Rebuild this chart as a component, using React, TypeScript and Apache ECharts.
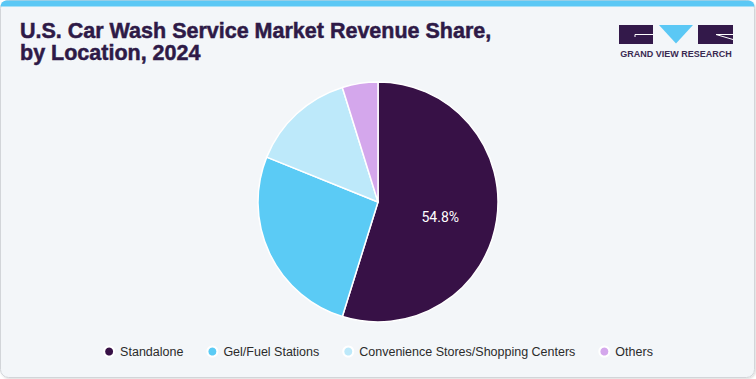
import React, { useEffect, useRef } from "react";
import * as echarts from "echarts";

const categories = ["Standalone", "Gel/Fuel Stations", "Convenience Stores/Shopping Centers", "Others"];
const shares = [54.8, 26.3, 14.1, 4.8];
const colors = ["#371146", "#5BCBF5", "#BDE9FA", "#D4A7EC"];
const titleText = "U.S. Car Wash Service Market Revenue Share,\nby Location, 2024";
const brandText = "GRAND VIEW RESEARCH";

export default function App() {
  const ref = useRef<HTMLDivElement>(null);
  useEffect(() => {
    document.body.style.margin = "0";
    if (!ref.current) return;
    const chart = echarts.init(ref.current, undefined, { renderer: "svg" });
    const dark = "#2E1A47";
    chart.setOption({
      animation: false,
      title: {
        text: titleText,
        left: 20,
        top: 19.5,
        padding: 0,
        textStyle: {
          fontFamily: "Liberation Sans, Arial, sans-serif",
          fontSize: 21.5,
          fontWeight: "bold",
          color: dark,
          lineHeight: 22.5,
          textBorderColor: dark,
          textBorderWidth: 0.5,
        },
      },
      legend: {
        left: "center",
        top: 340,
        icon: "circle",
        itemWidth: 10,
        itemHeight: 10,
        itemGap: 23,
        textStyle: {
          fontFamily: "Liberation Sans, Arial, sans-serif",
          fontSize: 12.5,
          color: "#2b2b2b",
          padding: [0, 0, 0, 1],
        },
        data: categories,
      },
      graphic: [
        {
          type: "rect",
          z: -10,
          shape: { x: 0.5, y: 0.5, width: 754, height: 377, r: 8 },
          style: { fill: "#F3F6F9", stroke: "#D2D5D9", lineWidth: 1, shadowBlur: 2, shadowOffsetX: 1, shadowOffsetY: 1, shadowColor: "rgba(0,0,0,0.15)" },
        },
        {
          type: "rect",
          z: -9,
          shape: { x: 0.5, y: 0.5, width: 754, height: 6, r: [8, 8, 0, 0] },
          style: { fill: "#5BC8F5" },
        },
        {
          type: "group",
          z: 5,
          children: [
            { type: "rect", shape: { x: 619, y: 25, width: 34, height: 19 }, style: { fill: "#33194A" } },
            { type: "line", shape: { x1: 635, y1: 34.5, x2: 653, y2: 34.5 }, style: { stroke: "#ffffff", lineWidth: 1 } },
            { type: "line", shape: { x1: 635, y1: 34.5, x2: 635, y2: 37 }, style: { stroke: "#ffffff", lineWidth: 1 } },
            { type: "polygon", shape: { points: [[659, 25], [693, 25], [676, 43.5]] }, style: { fill: "#5BC8F5" } },
            { type: "rect", shape: { x: 698, y: 25, width: 35, height: 19 }, style: { fill: "#33194A" } },
            { type: "line", shape: { x1: 716, y1: 34.5, x2: 733, y2: 34.5 }, style: { stroke: "#ffffff", lineWidth: 1 } },
            { type: "line", shape: { x1: 716, y1: 34.5, x2: 733, y2: 39.5 }, style: { stroke: "#ffffff", lineWidth: 1 } },
            {
              type: "text",
              style: {
                x: 676,
                y: 53.5,
                text: brandText,
                align: "center",
                verticalAlign: "middle",
                fontFamily: "Liberation Sans, Arial, sans-serif",
                fontSize: 9,
                fontWeight: "bold",
                fill: "#3A2A52",
              },
            },
          ],
        },
      ],
      series: [
        {
          type: "pie",
          center: [378, 202],
          radius: [0, 120],
          startAngle: 90,
          clockwise: true,
          label: {
            show: true,
            position: "inside",
            formatter: (p: any) => "\n" + p.value + "%",
            color: "#ffffff",
            fontFamily: "Roboto, sans-serif",
            fontSize: 14,
            lineHeight: 12,
          },
          labelLine: { show: false },
          emphasis: { disabled: true },
          itemStyle: { borderColor: "#ffffff", borderWidth: 1.5 },
          data: categories.map((name, i) => ({
            name,
            value: shares[i],
            itemStyle: { color: colors[i] },
            label: { show: i === 0 },
          })),
        },
      ],
    });
    return () => chart.dispose();
  }, []);
  return <div ref={ref} style={{ width: 756, height: 379 }} />;
}
